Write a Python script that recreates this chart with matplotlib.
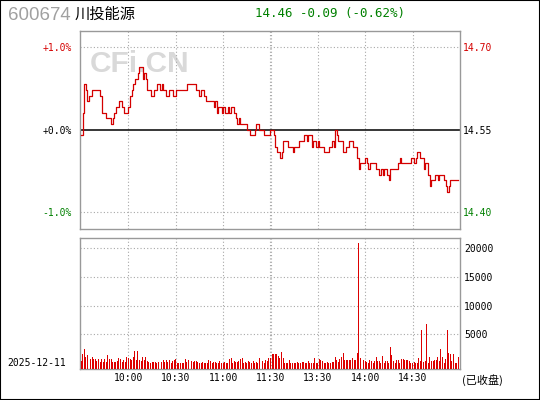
import matplotlib.pyplot as plt
from matplotlib.patches import Rectangle

code = "600674"
name = "川投能源"
quote = "14.46 -0.09 (-0.62%)"
date = "2025-12-11"
status = "(已收盘)"
prev_close = 14.55

time_ticks = [30, 60, 90, 150, 180, 210]
time_labels = ["10:00", "10:30", "11:00", "13:30", "14:00", "14:30"]
noon_label = "11:30"

# minute prices, 9:30 .. 15:00
price = [
    14.54, 14.58, 14.63, 14.62, 14.60, 14.61, 14.61, 14.62, 14.62, 14.62,
    14.62, 14.62, 14.61, 14.58, 14.58, 14.58, 14.57, 14.57, 14.57, 14.56,
    14.57, 14.58, 14.59, 14.59, 14.60, 14.60, 14.59, 14.58, 14.58, 14.58,
    14.59, 14.61, 14.62, 14.63, 14.64, 14.64, 14.65, 14.66, 14.66, 14.64,
    14.65, 14.64, 14.62, 14.62, 14.61, 14.61, 14.62, 14.62, 14.63, 14.63,
    14.62, 14.63, 14.62, 14.62, 14.61, 14.61, 14.62, 14.62, 14.61, 14.61,
    14.62, 14.62, 14.62, 14.62, 14.62, 14.62, 14.62, 14.63, 14.63, 14.63,
    14.63, 14.63, 14.63, 14.62, 14.62, 14.61, 14.62, 14.62, 14.61, 14.60,
    14.60, 14.60, 14.60, 14.60, 14.59, 14.60, 14.58, 14.59, 14.59, 14.58,
    14.59, 14.58, 14.58, 14.59, 14.58, 14.59, 14.59, 14.58, 14.57, 14.56,
    14.57, 14.56, 14.56, 14.56, 14.56, 14.55, 14.55, 14.54, 14.54, 14.54,
    14.55, 14.56, 14.56, 14.55, 14.55, 14.55, 14.54, 14.54, 14.54, 14.54,
    14.55, 14.55, 14.54, 14.52, 14.51, 14.51, 14.50, 14.51, 14.53, 14.53,
    14.53, 14.52, 14.52, 14.52, 14.51, 14.52, 14.52, 14.52, 14.53, 14.53,
    14.53, 14.54, 14.54, 14.53, 14.54, 14.54, 14.52, 14.53, 14.53, 14.52,
    14.53, 14.52, 14.52, 14.52, 14.51, 14.51, 14.51, 14.52, 14.52, 14.53,
    14.52, 14.55, 14.54, 14.53, 14.53, 14.53, 14.51, 14.51, 14.52, 14.52,
    14.53, 14.53, 14.52, 14.52, 14.52, 14.50, 14.48, 14.49, 14.49, 14.49,
    14.50, 14.49, 14.48, 14.49, 14.49, 14.49, 14.49, 14.48, 14.48, 14.47,
    14.48, 14.47, 14.48, 14.48, 14.47, 14.46, 14.48, 14.48, 14.48, 14.48,
    14.48, 14.49, 14.50, 14.49, 14.49, 14.49, 14.49, 14.49, 14.49, 14.50,
    14.50, 14.49, 14.50, 14.51, 14.51, 14.50, 14.50, 14.48, 14.49, 14.49,
    14.47, 14.45, 14.46, 14.46, 14.47, 14.47, 14.46, 14.47, 14.47, 14.47,
    14.46, 14.45, 14.44, 14.45, 14.46, 14.46, 14.46, 14.46, 14.46, 14.46,
]

volume = [
    350, 1570, 2440, 990, 1390, 1100, 700, 1050, 700, 700,
    350, 640, 170, 700, 170, 700, 230, 1390, 700, 700,
    170, 170, 170, 350, 870, 640, 170, 460, 170, 1050,
    930, 760, 520, 1050, 2090, 520, 2090, 520, 350, 1050,
    520, 1050, 350, 170, 60, 170, 170, 170, 60, 170,
    700, 170, 520, 170, 520, 170, 520, 60, 350, 460,
    700, 60, 60, 60, 60, 60, 700, 170, 520, 170,
    350, 170, 350, 350, 170, 60, 60, 170, 60, 60,
    60, 520, 350, 60, 170, 170, 60, 60, 350, 60,
    60, 170, 60, 60, 700, 870, 60, 350, 170, 170,
    350, 700, 870, 60, 170, 60, 350, 170, 60, 350,
    60, 170, 60, 870, 350, 350, 60, 520, 350, 870,
    810, 1570, 1570, 1570, 1570, 1220, 810, 1860, 810, 60,
    60, 60, 520, 60, 60, 60, 60, 230, 60, 60,
    230, 170, 60, 60, 350, 60, 60, 60, 870, 60,
    60, 760, 520, 350, 60, 60, 170, 60, 60, 170,
    170, 1050, 520, 230, 640, 1100, 1740, 520, 520, 520,
    520, 520, 870, 520, 520, 1740, 20900, 810, 520, 520,
    350, 230, 60, 520, 350, 60, 350, 1100, 350, 350,
    60, 1220, 60, 350, 350, 60, 2730, 1390, 350, 60,
    520, 520, 60, 640, 760, 520, 520, 520, 350, 60,
    60, 230, 60, 60, 930, 350, 5750, 230, 350, 6800,
    60, 1050, 350, 350, 520, 520, 1050, 350, 2440, 1050,
    60, 640, 5750, 1680, 1570, 350, 1570, 60, 60, 1050,
]

red = "#d40000"
green = "#008000"
grid_kw = dict(color="#a8a8a8", linestyle=(0, (1, 2)), linewidth=0.8, zorder=1)
mono = "DejaVu Sans Mono"

minutes = list(range(len(price)))
pct = [(p / prev_close - 1) * 100 for p in price]

fig = plt.figure(figsize=(5.4, 4), dpi=100)
fig.patches.append(Rectangle((0, 0), 1, 1, transform=fig.transFigure,
                             fill=False, edgecolor="black", linewidth=1.5))

ax = fig.add_axes([80 / 540, 1 - 229 / 400, 380 / 540, 198 / 400])
vx = fig.add_axes([80 / 540, 1 - 369.3 / 400, 380 / 540, 131.3 / 400])

for a in (ax, vx):
    a.set_xlim(-0.7, 240.1)
    for s in a.spines.values():
        s.set_color("#999999")
        s.set_linewidth(1)
    for t in time_ticks + [119.4, 120.4]:
        a.axvline(t, **grid_kw)

# price panel
ax.set_ylim(-1.21, 1.20)
for lv in (-1, 1):
    ax.axhline(lv, **grid_kw)
ax.axhline(0, color="black", linewidth=1.1, zorder=2)
ax.plot(minutes, pct, color=red, linewidth=0.9, drawstyle="steps-post", zorder=3)
ax.text(0.026, 0.833, "CFi.CN", transform=ax.transAxes, fontsize=21.5,
        fontweight="bold", family="Liberation Sans", color="#d9d9d9",
        va="center", ha="left", zorder=0)

ax.set_xticks([])
ax.set_yticks([-1, 0, 1])
ax.set_yticklabels(["-1.0%", "+0.0%", "+1.0%"], family=mono, fontsize=7)
ax.tick_params(axis="y", length=0, pad=6)
for lab, c in zip(ax.get_yticklabels(), [green, "black", red]):
    lab.set_color(c)

ax2 = ax.twinx()
ax2.set_ylim(ax.get_ylim())
ax2.set_yticks([-1, 0, 1])
ax2.set_yticklabels([f"{prev_close * (1 + v / 100):.2f}" for v in (-1, 0, 1)],
                    family=mono, fontsize=7)
ax2.tick_params(axis="y", length=0, pad=2)
for lab, c in zip(ax2.get_yticklabels(), [green, "black", red]):
    lab.set_color(c)
for s in ax2.spines.values():
    s.set_visible(False)

# volume panel
vbase = -1100
vx.set_ylim(vbase, 21800)
for lv in (5000, 10000, 15000, 20000):
    vx.axhline(lv, **grid_kw)
vx.bar(minutes, [v - vbase for v in volume], bottom=vbase, width=0.62,
       color="#dd0000", linewidth=0, zorder=3)
vx.set_xticks(time_ticks[:3] + [119.9] + time_ticks[3:])
vx.set_xticklabels(time_labels[:3] + [noon_label] + time_labels[3:],
                   family=mono, fontsize=7)
vx.tick_params(axis="x", length=0, pad=3)
vx.yaxis.tick_right()
vx.set_yticks([5000, 10000, 15000, 20000])
vx.set_yticklabels(["5000", "10000", "15000", "20000"], family=mono, fontsize=7)
vx.tick_params(axis="y", length=0, pad=3)

# header and footer text
fig.text(8 / 540, 1 - 15 / 400, code, family="Liberation Sans", fontsize=13.4,
         color="#a0a0a0", va="center", ha="left")
fig.text(75 / 540, 1 - 14 / 400, name, family=["Noto Sans CJK SC", "DejaVu Sans"],
         fontsize=11, color="black", va="center", ha="left")
fig.text(255 / 540, 1 - 14 / 400, quote, family=mono, fontsize=9,
         color=green, va="center", ha="left")
fig.text(7 / 540, 1 - 363 / 400, date, family=mono, fontsize=7,
         color="black", va="center", ha="left")
fig.text(462 / 540, 1 - 380 / 400, status, family=["Noto Sans CJK SC", "DejaVu Sans"],
         fontsize=8, color="black", va="center", ha="left")

fig.savefig("out.png", dpi=100)
